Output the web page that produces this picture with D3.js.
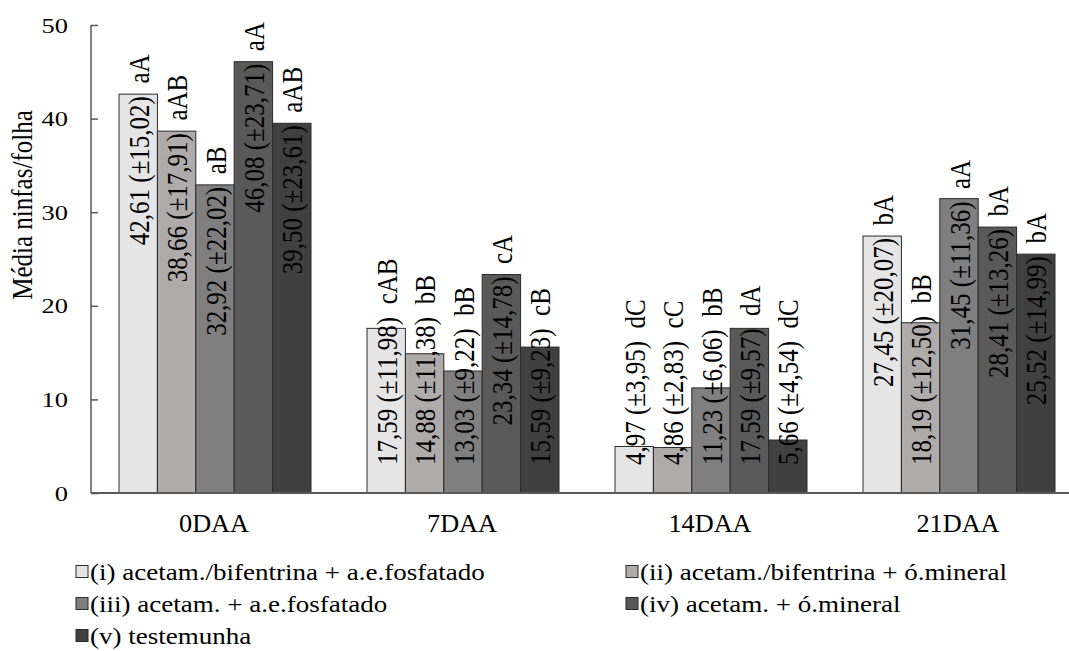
<!DOCTYPE html>
<html><head><meta charset="utf-8">
<script src="https://cdn.jsdelivr.net/npm/d3@7"></script>
<style>
html,body{margin:0;padding:0;background:#fff;}
</style></head>
<body><svg id="c" width="1069" height="651"></svg>
<script>
const categories = ["0DAA", "7DAA", "14DAA", "21DAA"];
const seriesNames = [
  "(i) acetam./bifentrina + a.e.fosfatado",
  "(ii) acetam./bifentrina + ó.mineral",
  "(iii) acetam. + a.e.fosfatado",
  "(iv) acetam. + ó.mineral",
  "(v) testemunha"
];
const meansI   = [42.61, 17.59, 4.97, 27.45];
const meansII  = [38.66, 14.88, 4.86, 18.19];
const meansIII = [32.92, 13.03, 11.23, 31.45];
const meansIV  = [46.08, 23.34, 17.59, 28.41];
const meansV   = [39.50, 15.59, 5.66, 25.52];
const sdI   = [15.02, 11.98, 3.95, 20.07];
const sdII  = [17.91, 11.38, 2.83, 12.50];
const sdIII = [22.02, 9.22, 6.06, 11.36];
const sdIV  = [23.71, 14.78, 9.57, 13.26];
const sdV   = [23.61, 9.23, 4.54, 14.99];
const lettersI   = ["aA", "cAB", "dC", "bA"];
const lettersII  = ["aAB", "bB", "cC", "bB"];
const lettersIII = ["aB", "bB", "bB", "aA"];
const lettersIV  = ["aA", "cA", "dA", "bA"];
const lettersV   = ["aAB", "cB", "dC", "bA"];
const yTicks = [0, 10, 20, 30, 40, 50];
const yTitle = "Média ninfas/folha";
const colors = ["#e5e5e5", "#afabab", "#7f7f7f", "#595959", "#404040"];

const means = [meansI, meansII, meansIII, meansIV, meansV];
const sds = [sdI, sdII, sdIII, sdIV, sdV];
const letters = [lettersI, lettersII, lettersIII, lettersIV, lettersV];

const FONT = '"Liberation Serif"';
const SX = 1.2;
const svg = d3.select("#c");
const x0 = d3.scaleBand().domain(categories).range([91, 1083]).paddingInner(56/248).paddingOuter(28/248);
const x1 = d3.scaleBand().domain(d3.range(5)).range([0, x0.bandwidth()]);
const y = d3.scaleLinear().domain([0, 50]).range([493, 25]);
const fmt = v => v.toFixed(2).replace(".", ",");
const txt = () => svg.append("text").style("font-family", FONT).attr("fill", "#000");

// y axis
const yAxis = d3.axisRight(y).tickValues(yTicks).tickSize(7).tickFormat("");
const ya = svg.append("g").attr("transform", "translate(91,0)").call(yAxis);
ya.select(".domain").attr("stroke", "#595959").attr("stroke-width", 1.5).attr("d", "M0," + y(50) + "V" + y(0));
ya.selectAll(".tick line").attr("stroke", "#595959").attr("stroke-width", 1.5);
yTicks.forEach(t => {
  txt().attr("transform", `translate(68,${y(t) + 7.5}) scale(${SX},1)`)
    .attr("text-anchor", "end").attr("font-size", 22).text(t);
});
txt().attr("transform", `translate(21,205) scale(${SX},1) rotate(-90)`)
  .attr("text-anchor", "middle").attr("dy", "0.35em").attr("font-size", 25).text(yTitle);

// bars
const groups = svg.append("g").selectAll("g").data(categories).join("g")
  .attr("transform", d => `translate(${x0(d)},0)`);
groups.each(function(cat, ci) {
  const g = d3.select(this);
  for (let s = 0; s < 5; s++) {
    const v = means[s][ci];
    g.append("rect").attr("x", x1(s)).attr("width", x1.bandwidth())
      .attr("y", y(v)).attr("height", y(0) - y(v))
      .attr("fill", colors[s]).attr("stroke", "#2b2b2b").attr("stroke-width", 1);
  }
});
// baseline
svg.append("line").attr("x1", 91).attr("x2", 1069).attr("y1", y(0)).attr("y2", y(0))
  .attr("stroke", "#595959").attr("stroke-width", 2);

// labels
categories.forEach((cat, ci) => {
  for (let s = 0; s < 5; s++) {
    const v = means[s][ci];
    const cx = x0(cat) + x1(s) + x1.bandwidth() / 2;
    const by = Math.min(y(v) + 151, 465);
    txt().attr("transform", `translate(${cx},${by}) scale(1.22,1) rotate(-90)`)
      .attr("font-size", 25).attr("dy", "0.35em").style("white-space", "pre")
      .text(`${fmt(v)} (±${fmt(sds[s][ci])})  ${letters[s][ci]}`);
  }
});

// x category labels
categories.forEach(cat => {
  txt().attr("transform", `translate(${x0(cat) + x0.bandwidth()/2 - 1},532) scale(1.05,1)`)
    .attr("text-anchor", "middle").attr("font-size", 25).text(cat);
});

// legend
const legPos = [[76, 572], [626, 572], [76, 604], [626, 604], [76, 636]];
seriesNames.forEach((name, i) => {
  const [lx, ly] = legPos[i];
  svg.append("rect").attr("x", lx).attr("y", ly - 6.5).attr("width", 12).attr("height", 12)
    .attr("fill", colors[i]).attr("stroke", "#2b2b2b").attr("stroke-width", 1);
  txt().attr("transform", `translate(${lx + 14},${ly + 8}) scale(1.15,1)`)
    .attr("font-size", 23.5).text(name);
});
</script></body></html>
